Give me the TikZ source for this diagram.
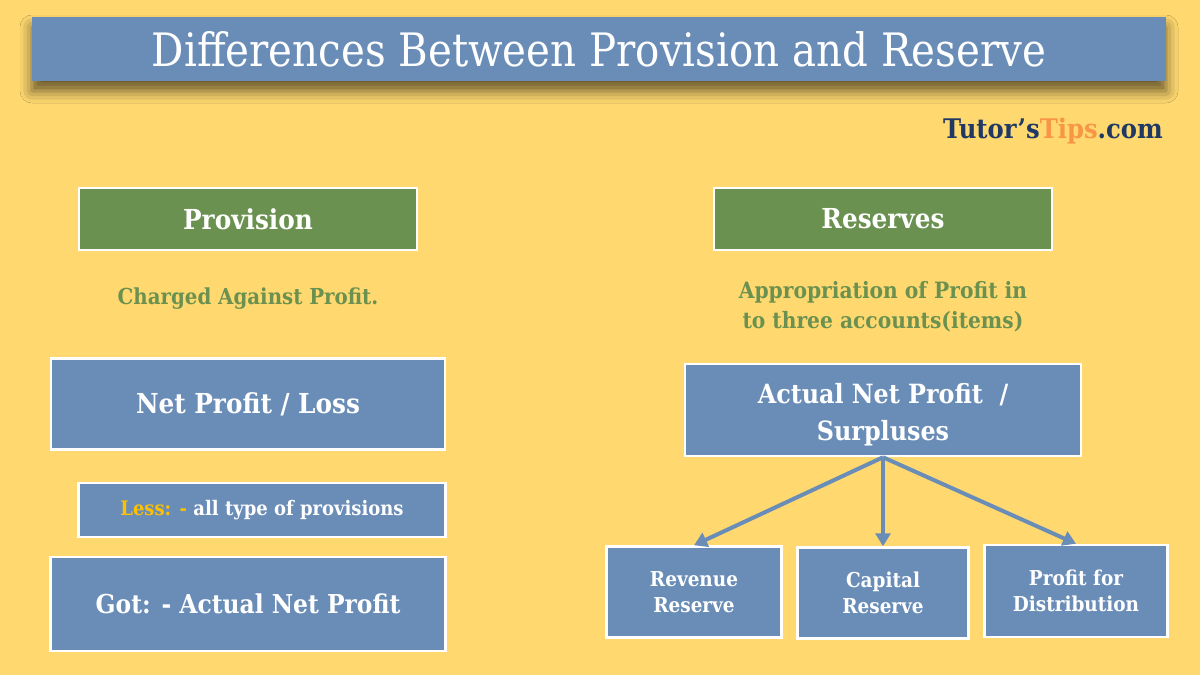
\documentclass[tikz,border=0pt]{standalone}
\usepackage{fontspec}
\setmainfont{DejaVu Serif Condensed}
\usetikzlibrary{arrows.meta,shadows.blur}
\definecolor{bgyellow}{RGB}{255,217,112}
\definecolor{boxblue}{RGB}{106,141,184}
\definecolor{boxgreen}{RGB}{106,145,79}
\definecolor{brandnavy}{RGB}{31,56,100}
\definecolor{brandorange}{RGB}{247,150,70}
\definecolor{lessyellow}{RGB}{255,192,0}

\begin{document}
\begin{tikzpicture}[x=1pt, y=-1pt,
    bluebox/.style={draw=white, line width=2.5pt, fill=boxblue, text=white, font=\bfseries, align=center, inner sep=0pt},
    greenbox/.style={draw=white, line width=2.5pt, fill=boxgreen, text=white, font=\bfseries\fontsize{27.5}{30}\selectfont, inner sep=0pt, minimum width=338pt, minimum height=62pt},
    note/.style={text=boxgreen, font=\bfseries\fontsize{22}{30}\selectfont, align=center},
    flow/.style={draw=boxblue, line width=4pt, -{Triangle[length=13pt,width=15pt]}}]
    \fill[bgyellow] (0,0) rectangle (1200,675);
    \useasboundingbox (0,0) rectangle (1200,675);

    % heading
    \node[fill=boxblue, minimum width=1134pt, minimum height=64pt, inner sep=0pt, text=white,
          blur shadow={shadow xshift=0pt, shadow yshift=-10pt, shadow blur radius=12pt, shadow opacity=60}] (title) at (599,49)
        {\resizebox{894pt}{35pt}{Differences Between Provision and Reserve}};
    \node[font=\bfseries\fontsize{27}{30}\selectfont] (brand) at (1053,131)
        {\textcolor{brandnavy}{Tutor’s}\textcolor{brandorange}{Tips}\textcolor{brandnavy}{.com}};

    % provision side
    \node[greenbox] (provision) at (248,219) {Provision};
    \node[note] (charged) at (248,299) {Charged Against Profit.};
    \node[bluebox, minimum width=394pt, minimum height=91pt, font=\bfseries\fontsize{27.5}{30}\selectfont] (netprofit) at (248,404) {Net Profit / Loss};
    \node[bluebox, minimum width=367pt, minimum height=54pt, font=\bfseries\fontsize{20}{24}\selectfont] (less) at (262,510) {\textcolor{lessyellow}{Less: -} all type of provisions};
    \node[bluebox, minimum width=395pt, minimum height=94pt, font=\bfseries\fontsize{26}{30}\selectfont] (got) at (248,604) {Got: - Actual Net Profit};

    % reserve side
    \node[greenbox] (reserves) at (883,219) {Reserves};
    \node[note, font=\bfseries\fontsize{22.5}{30}\selectfont] (approp) at (883,307) {Appropriation of Profit in\\to three accounts(items)};
    \node[bluebox, minimum width=396pt, minimum height=92pt, font=\bfseries\fontsize{26.5}{37}\selectfont] (actual) at (883,410) {\rule{0pt}{30pt}Actual Net Profit~~/\\Surpluses};
    \node[bluebox, minimum width=175pt, minimum height=91pt, font=\bfseries\fontsize{20.5}{26}\selectfont] (revenue) at (694,592) {Revenue\\Reserve};
    \node[bluebox, minimum width=171pt, minimum height=91pt, font=\bfseries\fontsize{20.5}{26}\selectfont] (capital) at (883,593) {Capital\\Reserve};
    \node[bluebox, minimum width=183pt, minimum height=92pt, font=\bfseries\fontsize{20.5}{26}\selectfont] (distrib) at (1076,591) {Profit for\\Distribution};

    \draw[flow] (actual.south) -- (revenue.north);
    \draw[flow] (actual.south) -- (capital.north);
    \draw[flow] (actual.south) -- (distrib.north);
\end{tikzpicture}
\end{document}
